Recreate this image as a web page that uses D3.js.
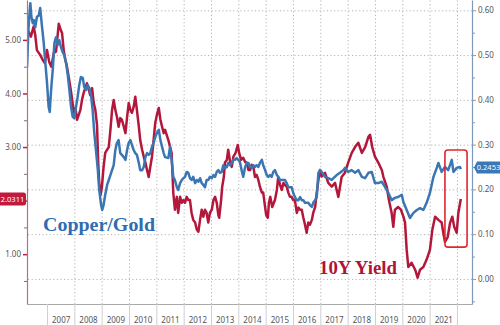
<!DOCTYPE html>
<html>
<head>
<meta charset="utf-8">
<script src="https://cdn.jsdelivr.net/npm/d3@7"></script>
<style>
  html, body { margin: 0; padding: 0; background: #fff; }
  svg { display: block; }
  .tick text { font-family: "Noto Sans", "Open Sans", sans-serif; }
</style>
</head>
<body>
<script>
// ---- US 10Y Treasury yield (left axis, %) ----
const yieldYears = [
  2006.27,2006.33,2006.41,2006.51,2006.57,2006.63,2006.75,2006.84,2006.92,2007.00,
  2007.08,2007.16,2007.25,2007.33,2007.43,2007.50,2007.55,2007.61,2007.67,2007.73,
  2007.79,2007.85,2007.91,2007.98,2008.04,2008.10,2008.16,2008.22,2008.28,2008.34,
  2008.40,2008.46,2008.53,2008.58,2008.65,2008.71,2008.77,2008.83,2008.87,2008.91,
  2008.96,2009.01,2009.07,2009.13,2009.20,2009.26,2009.32,2009.38,2009.44,2009.50,
  2009.56,2009.62,2009.68,2009.74,2009.81,2009.87,2009.93,2009.99,2010.05,2010.11,
  2010.17,2010.23,2010.29,2010.36,2010.41,2010.48,2010.54,2010.60,2010.66,2010.72,
  2010.78,2010.84,2010.90,2010.96,2011.02,2011.09,2011.15,2011.21,2011.27,2011.32,
  2011.44,2011.56,2011.62,2011.68,2011.75,2011.80,2011.87,2011.93,2011.99,2012.05,
  2012.11,2012.17,2012.23,2012.29,2012.35,2012.42,2012.48,2012.54,2012.60,2012.66,
  2012.72,2012.78,2012.84,2012.90,2012.96,2013.03,2013.09,2013.15,2013.21,2013.27,
  2013.30,2013.37,2013.41,2013.47,2013.51,2013.58,2013.63,2013.70,2013.76,2013.82,
  2013.90,2013.98,2014.03,2014.10,2014.18,2014.25,2014.31,2014.37,2014.43,2014.49,
  2014.55,2014.61,2014.67,2014.73,2014.79,2014.86,2014.91,2014.98,2015.02,2015.08,
  2015.12,2015.17,2015.24,2015.30,2015.34,2015.41,2015.46,2015.53,2015.59,2015.65,
  2015.71,2015.77,2015.83,2015.89,2015.95,2016.01,2016.07,2016.14,2016.20,2016.26,
  2016.32,2016.38,2016.44,2016.50,2016.56,2016.62,2016.69,2016.74,2016.81,2016.87,
  2016.93,2016.99,2017.05,2017.17,2017.29,2017.42,2017.54,2017.66,2017.78,2017.90,
  2018.02,2018.15,2018.27,2018.39,2018.52,2018.64,2018.76,2018.82,2018.90,2019.00,
  2019.12,2019.25,2019.31,2019.43,2019.51,2019.61,2019.67,2019.73,2019.85,2019.95,
  2020.04,2020.10,2020.16,2020.22,2020.34,2020.47,2020.56,2020.65,2020.77,2020.89,
  2021.01,2021.10,2021.20,2021.32,2021.44,2021.50,2021.56,2021.66,2021.75,2021.83,
  2021.90,2021.99,2022.05,2022.14
];
const yieldValues = [
  5.12,5.15,5.06,5.25,5.09,4.81,4.72,4.63,4.57,4.81,
  4.59,4.50,4.76,4.78,5.30,5.19,5.13,4.81,4.63,4.50,
  4.32,4.13,3.92,3.64,3.73,3.51,3.60,3.69,3.88,4.01,
  4.10,4.19,4.07,3.97,4.10,3.82,3.69,3.41,2.76,2.33,
  2.11,2.26,2.63,2.89,2.95,3.00,3.32,3.69,3.88,3.69,
  3.56,3.38,3.54,3.51,3.38,3.26,3.56,3.82,3.69,3.64,
  3.75,3.94,3.69,3.38,3.13,2.95,2.82,2.71,2.57,2.44,
  2.63,2.82,3.13,3.45,3.60,3.73,3.51,3.38,3.26,3.32,
  3.13,2.89,2.15,1.83,2.07,1.77,2.07,1.96,2.01,1.96,
  2.07,2.01,2.01,1.77,1.64,1.59,1.46,1.42,1.64,1.83,
  1.70,1.83,1.77,1.59,1.77,1.83,2.01,2.07,1.96,1.73,
  1.68,2.01,2.26,2.44,2.71,2.76,2.95,2.72,2.63,2.82,
  2.89,3.04,2.89,2.76,2.80,2.72,2.71,2.57,2.57,2.67,
  2.63,2.44,2.48,2.39,2.26,2.15,2.15,1.88,1.73,1.68,
  1.96,2.07,1.88,1.96,2.01,2.20,2.44,2.29,2.20,2.33,
  2.29,2.26,2.15,2.07,2.07,2.01,2.01,1.77,1.87,1.83,
  1.83,1.68,1.55,1.40,1.59,1.55,1.64,1.77,1.88,2.15,
  2.39,2.57,2.45,2.52,2.33,2.26,2.33,2.07,2.44,2.52,
  2.71,2.89,3.00,3.08,2.89,3.00,3.19,3.23,3.00,2.82,
  2.71,2.57,2.44,2.26,2.01,1.77,1.51,1.83,1.88,1.83,
  1.70,1.59,1.08,0.76,0.84,0.71,0.56,0.71,0.76,0.90,
  1.08,1.46,1.70,1.64,1.59,1.40,1.23,1.32,1.59,1.70,
  1.51,1.40,1.77,2.0311
];

// ---- Copper / Gold ratio (right axis) ----
const ratioYears = [
  2006.27,2006.32,2006.35,2006.39,2006.43,2006.48,2006.52,2006.57,2006.63,2006.70,
  2006.75,2006.82,2006.88,2006.94,2007.00,2007.06,2007.10,2007.15,2007.21,2007.27,
  2007.33,2007.39,2007.45,2007.51,2007.57,2007.63,2007.70,2007.76,2007.82,2007.88,
  2007.94,2008.00,2008.06,2008.12,2008.18,2008.24,2008.31,2008.36,2008.43,2008.49,
  2008.55,2008.61,2008.67,2008.73,2008.79,2008.86,2008.91,2008.98,2009.02,2009.07,
  2009.13,2009.20,2009.26,2009.32,2009.38,2009.44,2009.50,2009.56,2009.62,2009.68,
  2009.74,2009.81,2009.87,2009.93,2009.99,2010.05,2010.11,2010.17,2010.23,2010.29,
  2010.36,2010.41,2010.48,2010.54,2010.60,2010.66,2010.72,2010.78,2010.84,2010.90,
  2010.96,2011.02,2011.09,2011.15,2011.21,2011.27,2011.32,2011.44,2011.50,2011.56,
  2011.62,2011.68,2011.75,2011.80,2011.87,2011.93,2011.99,2012.05,2012.11,2012.17,
  2012.23,2012.29,2012.35,2012.42,2012.48,2012.54,2012.60,2012.66,2012.72,2012.78,
  2012.84,2012.90,2012.96,2013.03,2013.09,2013.15,2013.21,2013.27,2013.33,2013.39,
  2013.45,2013.51,2013.58,2013.63,2013.70,2013.76,2013.82,2013.88,2013.94,2014.00,
  2014.06,2014.12,2014.18,2014.25,2014.31,2014.37,2014.43,2014.49,2014.55,2014.61,
  2014.67,2014.73,2014.79,2014.86,2014.91,2014.98,2015.04,2015.10,2015.16,2015.22,
  2015.28,2015.34,2015.41,2015.46,2015.53,2015.59,2015.65,2015.71,2015.77,2015.83,
  2015.89,2015.95,2016.01,2016.07,2016.14,2016.20,2016.26,2016.32,2016.38,2016.44,
  2016.50,2016.56,2016.62,2016.69,2016.74,2016.81,2016.87,2016.93,2016.99,2017.05,
  2017.17,2017.29,2017.42,2017.48,2017.60,2017.72,2017.84,2017.90,2018.02,2018.15,
  2018.27,2018.39,2018.52,2018.64,2018.76,2018.88,2019.00,2019.12,2019.25,2019.37,
  2019.49,2019.61,2019.73,2019.85,2019.98,2020.04,2020.16,2020.28,2020.40,2020.53,
  2020.65,2020.77,2020.89,2021.01,2021.14,2021.26,2021.32,2021.44,2021.56,2021.68,
  2021.81,2021.87,2021.99,2022.11,2022.14
];
const ratioValues = [
  0.473,0.556,0.585,0.616,0.585,0.571,0.578,0.562,0.585,0.589,
  0.605,0.562,0.527,0.482,0.438,0.384,0.373,0.422,0.467,0.527,
  0.540,0.522,0.533,0.518,0.507,0.500,0.482,0.455,0.422,0.384,
  0.362,0.359,0.384,0.406,0.433,0.451,0.449,0.429,0.422,0.433,
  0.426,0.411,0.377,0.326,0.288,0.243,0.199,0.165,0.154,0.165,
  0.188,0.210,0.221,0.232,0.243,0.254,0.288,0.304,0.310,0.281,
  0.277,0.272,0.266,0.288,0.304,0.310,0.299,0.288,0.281,0.277,
  0.259,0.243,0.243,0.250,0.272,0.281,0.277,0.281,0.295,0.304,
  0.317,0.326,0.333,0.310,0.295,0.281,0.272,0.270,0.295,0.266,
  0.228,0.221,0.205,0.199,0.214,0.221,0.225,0.228,0.239,0.237,
  0.225,0.221,0.228,0.214,0.221,0.217,0.225,0.214,0.210,0.205,
  0.221,0.221,0.228,0.225,0.232,0.228,0.239,0.243,0.237,0.239,
  0.254,0.248,0.250,0.259,0.254,0.259,0.266,0.266,0.270,0.266,
  0.261,0.243,0.228,0.250,0.259,0.259,0.250,0.248,0.254,0.250,
  0.254,0.250,0.259,0.266,0.254,0.243,0.232,0.228,0.232,0.228,
  0.239,0.243,0.232,0.228,0.221,0.221,0.221,0.221,0.214,0.205,
  0.205,0.205,0.192,0.183,0.176,0.176,0.183,0.176,0.176,0.170,
  0.170,0.170,0.165,0.161,0.170,0.176,0.183,0.237,0.243,0.239,
  0.228,0.225,0.221,0.225,0.232,0.237,0.243,0.248,0.239,0.243,
  0.237,0.243,0.228,0.225,0.237,0.239,0.214,0.214,0.217,0.205,
  0.192,0.176,0.181,0.183,0.188,0.172,0.154,0.136,0.147,0.154,
  0.158,0.154,0.170,0.192,0.228,0.248,0.259,0.239,0.250,0.243,
  0.266,0.239,0.248,0.250,0.2453
];

// ---- axis ticks and labels ----
const yieldTicks = [1, 2, 3, 4, 5];
const yieldMinorTicks = [0.5, 1.5, 2.5, 3.5, 4.5, 5.5];
const ratioTicks = [0, 0.1, 0.2, 0.3, 0.4, 0.5, 0.6];
const ratioMinorTicks = [-0.05, 0.05, 0.15, 0.25, 0.35, 0.45, 0.55];
const yearBounds = d3.range(2007, 2023);           // 2007 .. 2022
const yearLabels = d3.range(2007, 2022);           // 2007 .. 2021
const seriesNames = ["Copper/Gold", "10Y Yield"];

const W = 500, H = 325;
const plotL = 27, plotR = 472, plotT = 0, plotB = 304;
const RED = "#b3173b", BLUE = "#3b76b2";

const x  = d3.scaleLinear().domain([2006.268, 2022.55]).range([plotL, plotR]);
const yL = d3.scaleLinear().domain([0.07, 5.745]).range([plotB, plotT]);
const yR = d3.scaleLinear().domain([-0.056, 0.623]).range([plotB, plotT]);

const lastYield = yieldValues[yieldValues.length - 1];
const lastRatio = ratioValues[ratioValues.length - 1];

const svg = d3.select("body").append("svg").attr("width", W).attr("height", H);

// grid
const gridStyle = g => g.selectAll("line")
  .attr("stroke", "#b4b4b4").attr("stroke-width", 1).attr("stroke-dasharray", "1.2,2.4");

svg.append("g").attr("transform", `translate(${plotR},0)`)
  .call(d3.axisRight(yR).tickValues(ratioTicks).tickSize(-(plotR - plotL)).tickFormat(""))
  .call(g => g.select(".domain").remove())
  .call(gridStyle);

svg.append("g").attr("transform", `translate(0,${plotB})`)
  .call(d3.axisBottom(x).tickValues(yearBounds.slice(1)).tickSize(-(plotB - plotT)).tickFormat(""))
  .call(g => g.select(".domain").remove())
  .call(gridStyle);

// bottom axis: baseline, year separators and centred year labels
svg.append("g").attr("transform", `translate(0,${plotB})`)
  .call(d3.axisBottom(x).tickValues(yearBounds).tickSize(H - plotB).tickSizeOuter(0).tickFormat(""))
  .call(g => g.select(".domain").attr("stroke", "#a9a9a9"))
  .call(g => g.selectAll(".tick line").attr("stroke", "#cfcfcf"));

svg.append("g").attr("transform", `translate(0,${plotB})`)
  .call(d3.axisBottom(x).tickValues(yearLabels.map(d => d + 0.5)).tickSize(0).tickFormat(d => Math.floor(d)))
  .call(g => g.select(".domain").remove())
  .call(g => g.selectAll("text").attr("y", 16.5).attr("dy", "0.35em")
    .attr("fill", "#555").attr("font-size", 8));

// lines
svg.append("clipPath").attr("id", "plot")
  .append("rect").attr("x", plotL).attr("y", plotT).attr("width", plotR - plotL).attr("height", plotB - plotT);

const yieldLine = d3.line().x((d, i) => x(yieldYears[i])).y(d => yL(d));
const ratioLine = d3.line().x((d, i) => x(ratioYears[i])).y(d => yR(d));

const lines = svg.append("g").attr("clip-path", "url(#plot)");
lines.append("path").datum(yieldValues).attr("d", yieldLine)
  .attr("fill", "none").attr("stroke", RED).attr("stroke-width", 2.5).attr("stroke-linejoin", "round");
lines.append("path").datum(ratioValues).attr("d", ratioLine)
  .attr("fill", "none").attr("stroke", BLUE).attr("stroke-width", 2.5).attr("stroke-linejoin", "round");

// left axis (yield); the label next to the last-value tag sits under the tag, so it is left out
svg.append("g").attr("transform", `translate(${plotL},0)`)
  .call(d3.axisLeft(yL).tickValues(yieldMinorTicks).tickSize(3).tickSizeOuter(0).tickFormat(""))
  .call(g => g.select(".domain").attr("stroke", "#b07382").attr("stroke-width", 1.2))
  .call(g => g.selectAll(".tick line").attr("stroke", "#8a6a70"));

svg.append("g").attr("transform", `translate(${plotL},0)`)
  .call(d3.axisLeft(yL).tickValues(yieldTicks).tickSize(4).tickPadding(2)
    .tickFormat(d => Math.abs(yL(d) - yL(lastYield)) < 10 ? "" : d3.format(".2f")(d)))
  .call(g => g.select(".domain").remove())
  .call(g => g.selectAll(".tick line").attr("stroke", "#c0203f").attr("stroke-width", 1.5))
  .call(g => g.selectAll("text").attr("fill", "#555").attr("font-size", 8));

// right axis (ratio)
svg.append("g").attr("transform", `translate(${plotR},0)`)
  .call(d3.axisRight(yR).tickValues(ratioMinorTicks).tickSize(3).tickSizeOuter(0).tickFormat(""))
  .call(g => g.select(".domain").attr("stroke", "#7d9abb").attr("stroke-width", 1.2))
  .call(g => g.selectAll(".tick line").attr("stroke", "#8a9aae"));

svg.append("g").attr("transform", `translate(${plotR},0)`)
  .call(d3.axisRight(yR).tickValues(ratioTicks).tickSize(4).tickPadding(2).tickFormat(d3.format(".2f")))
  .call(g => g.select(".domain").remove())
  .call(g => g.selectAll(".tick line").attr("stroke", "#8a9aae"))
  .call(g => g.selectAll("text").attr("fill", "#555").attr("font-size", 8));

// last-value tags
const tagL = svg.append("g").attr("transform", `translate(0,${yL(lastYield)})`);
tagL.append("rect").attr("x", -3).attr("y", -6.5).attr("width", 29).attr("height", 13).attr("rx", 2.5).attr("fill", "#c21a3f");
tagL.append("text").attr("x", 12.5).attr("y", 0).attr("dy", "0.35em").attr("text-anchor", "middle")
  .attr("fill", "#fff").attr("font-size", 7.5).attr("font-family", "Noto Sans, sans-serif")
  .text(lastYield.toFixed(4));

const tagR = svg.append("g").attr("transform", `translate(${plotR + 2},${yR(lastRatio) - 1.5})`);
tagR.append("path").attr("d", "M0,0 L3,-6 H30 V6 H3 Z").attr("fill", "#3a78b8");
tagR.append("text").attr("x", 14.5).attr("y", 0).attr("dy", "0.35em").attr("text-anchor", "middle")
  .attr("fill", "#fff").attr("font-size", 7.5).attr("font-family", "Noto Sans, sans-serif")
  .text(lastRatio.toFixed(4));

// highlight box round the latest months
svg.append("rect")
  .attr("x", x(2021.56)).attr("y", yR(0.288))
  .attr("width", x(2022.37) - x(2021.56)).attr("height", yR(0.071) - yR(0.288))
  .attr("rx", 3).attr("fill", "none").attr("stroke", "#e0262f").attr("stroke-width", 1.6);

// series labels
svg.append("text").attr("x", 43).attr("y", 231)
  .attr("font-family", "Liberation Serif, serif").attr("font-weight", "bold").attr("font-size", 19)
  .attr("textLength", 112).attr("lengthAdjust", "spacingAndGlyphs")
  .attr("fill", "#2f6db0").text(seriesNames[0]);

svg.append("text").attr("x", 319).attr("y", 274)
  .attr("font-family", "Liberation Serif, serif").attr("font-weight", "bold").attr("font-size", 19)
  .attr("textLength", 78).attr("lengthAdjust", "spacingAndGlyphs")
  .attr("fill", "#b01535").text(seriesNames[1]);
</script>
</body>
</html>
